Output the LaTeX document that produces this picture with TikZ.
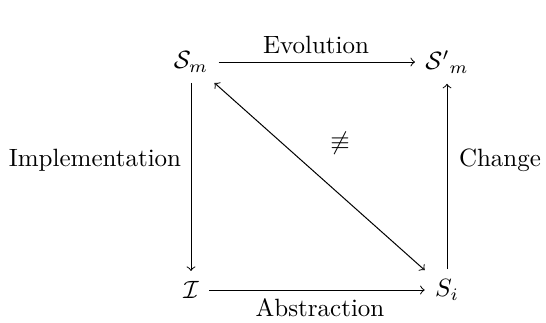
\documentclass[tikz,border=0pt]{standalone}
\usepackage{amssymb}
\begin{document}
\begin{tikzpicture}[x=0.4pt,y=-0.4pt,
  obj/.style={inner sep=4pt},
  arr/.style={->},
  lbl/.style={inner sep=0pt}]
\useasboundingbox (0,0) rectangle (546,322);
\node[obj] (sm) at (191,62) {$\mathcal{S}_m$};
\node[obj] (smp) at (447,62) {${\mathcal{S}'}_m$};
\node[obj] (i) at (191,290) {$\mathcal{I}$};
\node[obj] (si) at (447,290) {$S_i$};
\draw[arr] (sm) -- (smp);
\draw[arr] (sm) -- (i);
\draw[arr] (i) -- (si);
\draw[arr] (si) -- (smp);
\draw[<->] (sm) -- (si);
\node[lbl] (ev) at (316,45) {Evolution};
\node[lbl] (im) at (95,160) {Implementation};
\node[lbl] (ab) at (320,308) {Abstraction};
\node[lbl] (ch) at (500,160) {Change};
\node[lbl] (ne) at (340,143) {$\not\equiv$};
\end{tikzpicture}
\end{document}
